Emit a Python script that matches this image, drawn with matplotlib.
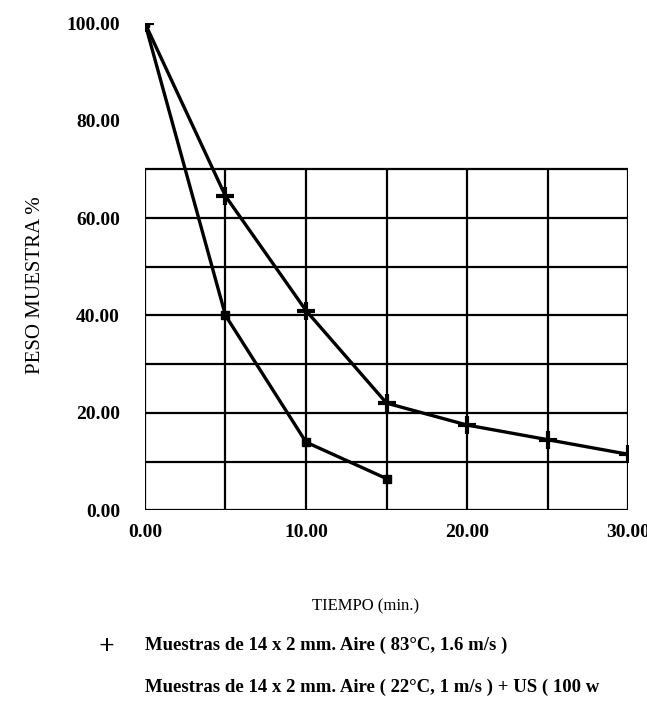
import matplotlib.pyplot as plt

# data
tiempo_aire = [0, 5, 10, 15, 20, 25, 30]
peso_aire = [100, 64.5, 41, 22, 17.5, 14.5, 11.5]
tiempo_us = [0, 5, 10, 15]
peso_us = [100, 40, 14, 6.5]

x_ticks = [0, 10, 20, 30]
y_ticks = [0, 20, 40, 60, 80, 100]
grid_x = [5, 10, 15, 20, 25, 30]
grid_y = [10, 20, 30, 40, 50, 60, 70]

legend_aire = 'Muestras de 14 x 2 mm. Aire ( 83\u00b0C, 1.6 m/s )'
legend_us = 'Muestras de 14 x 2 mm. Aire ( 22\u00b0C, 1 m/s ) + US ( 100 w'

plt.rcParams['font.family'] = ['Liberation Serif', 'DejaVu Serif']

fig = plt.figure(figsize=(6.47, 7.01), dpi=100)
ax = fig.add_axes([0.224, 0.272, 0.747, 0.695])

# grid lines of the original plot
ax.hlines(grid_y, 0, 30, color='black', lw=1.6, zorder=1)
ax.vlines(grid_x, 0, 70, color='black', lw=1.6, zorder=1)
ax.vlines(0, 0, 70, color='black', lw=1.6, zorder=1)
ax.hlines(0, 0, 30, color='black', lw=1.6, zorder=1)

ax.plot(tiempo_aire, peso_aire, color='black', lw=2.4, marker='+',
        markersize=13, markeredgewidth=3, zorder=3)
ax.plot(tiempo_us, peso_us, color='black', lw=2.4, marker='s',
        markersize=6, zorder=3)

ax.set_xlim(0, 30)
ax.set_ylim(0, 100)
ax.set_xticks(x_ticks)
ax.set_yticks(y_ticks)
ax.set_xticklabels(['%.2f' % v for v in x_ticks], fontweight='bold', fontsize=14)
ax.set_yticklabels(['%.2f' % v for v in y_ticks], fontweight='bold', fontsize=14)
ax.tick_params(axis='y', length=0, pad=18)
ax.tick_params(axis='x', length=0, pad=10)
for s in ax.spines.values():
    s.set_visible(False)

fig.text(0.055, 0.593, 'PESO MUESTRA %', ha='center', va='center',
         rotation=90, fontsize=15)
fig.text(0.565, 0.135, 'TIEMPO (min.)', ha='center', va='center', fontsize=12)

# legend below the chart
fig.text(0.165, 0.076, '+', ha='center', va='center', fontsize=20, fontweight='bold')
fig.text(0.224, 0.08, legend_aire, ha='left', va='center', fontsize=13.5, fontweight='bold')
fig.text(0.224, 0.02, legend_us, ha='left', va='center', fontsize=13.5, fontweight='bold')

fig.savefig('out.png', dpi=100, facecolor='white')
